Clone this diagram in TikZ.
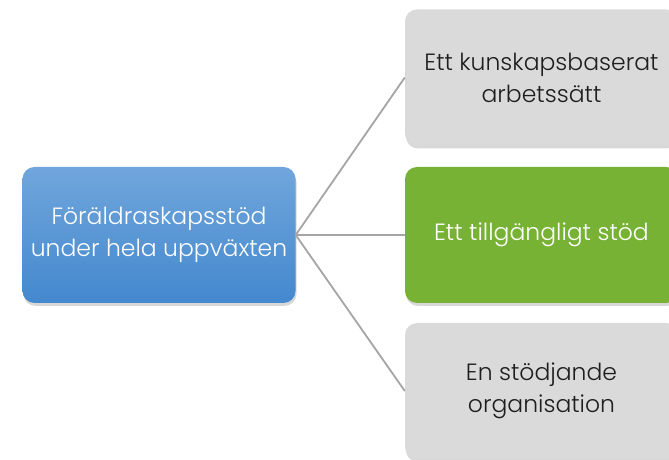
\documentclass[tikz,border=0pt]{standalone}
\usepackage{fontspec}
\setmainfont{Poppins}[UprightFont=* Light]
\usepackage{tikz}
\usetikzlibrary{calc,shadows}

\definecolor{boxblue}{RGB}{112,166,220}
\definecolor{boxbluedark}{RGB}{68,136,206}
\definecolor{boxgreen}{RGB}{120,178,52}
\definecolor{boxgray}{RGB}{218,218,218}
\definecolor{linegray}{RGB}{165,165,165}
\definecolor{textdark}{RGB}{30,30,30}

\tikzset{
    box/.style={rounded corners=12pt, minimum width=273pt, minimum height=136pt,
        align=center, font=\fontsize{23.5}{32}\selectfont,
        drop shadow={shadow xshift=1pt, shadow yshift=-3pt, opacity=0.3}},
    bluebox/.style={box, top color=boxblue, bottom color=boxbluedark, text=white},
    greenbox/.style={box, fill=boxgreen, text=white},
    graybox/.style={box, fill=boxgray, text=textdark},
    conn/.style={draw=linegray, line width=1.8pt}
}

\begin{document}
\begin{tikzpicture}[x=1pt,y=1pt]

    \useasboundingbox[fill=white] (0,0) rectangle (669,460);

    \node[bluebox] (stod) at (159,225) {Föräldraskapsstöd\\under hela uppväxten};

    \node[graybox] (kunskap) at (541.5,382.5) {Ett kunskapsbaserat\\arbetssätt};
    \node[greenbox] (tillg) at (541.5,225) {Ett tillgängligt stöd};
    \node[graybox] (organ) at (541.5,69) {En stödjande\\organisation};

    \foreach \n in {kunskap,tillg,organ} \draw[conn] (stod.east) -- (\n.west);

\end{tikzpicture}
\end{document}
